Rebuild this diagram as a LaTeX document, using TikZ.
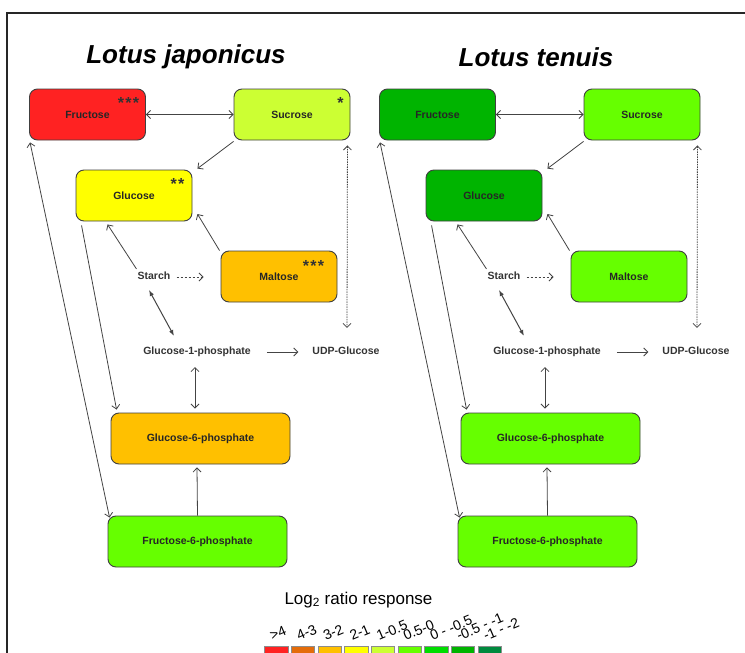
\documentclass[tikz,border=0pt]{standalone}
\usepackage{fontspec}
\setmainfont{Liberation Sans}
\usetikzlibrary{arrows.meta,calc}
\definecolor{cRed}{HTML}{FF2222}
\definecolor{cOrD}{HTML}{E46C0A}
\definecolor{cOr}{HTML}{FFC000}
\definecolor{cYel}{HTML}{FFFF00}
\definecolor{cYG}{HTML}{CCFF33}
\definecolor{cLG}{HTML}{66FF00}
\definecolor{cG}{HTML}{00DD00}
\definecolor{cDG}{HTML}{00B400}
\definecolor{cVDG}{HTML}{008A3E}
\definecolor{boxgray}{HTML}{404040}
\definecolor{linegray}{HTML}{444444}
\tikzset{
  box/.style={draw=boxgray, line width=0.9pt, rounded corners=8pt,
    minimum width=116pt, minimum height=51pt, inner sep=0pt,
    font=\fontsize{10.5}{12}\selectfont\bfseries, text=black!85},
  widebox/.style={box, minimum width=179pt},
  lbl/.style={inner sep=0pt, font=\fontsize{10.5}{12}\selectfont\bfseries, text=black!80},
  ttl/.style={inner sep=0pt, font=\fontsize{26}{30}\selectfont\bfseries\itshape},
  conn/.style={draw=linegray, line width=0.8pt},
  uni/.style={conn, -{Straight Barb[length=4pt,width=8pt]}},
  bi/.style={conn, {Straight Barb[length=4pt,width=8pt]}-{Straight Barb[length=4pt,width=8pt]}},
  bifill/.style={conn, line width=1pt, {Latex[length=6pt,width=4.5pt]}-{Latex[length=6pt,width=4.5pt]}},
  stars/.style={inner sep=0pt, anchor=base, font=\fontsize{16}{16}\selectfont\bfseries, text=black!80},
  legsq/.style={draw=black!45, line width=0.8pt, minimum width=23.3pt, minimum height=16pt, inner sep=0pt},
  leglbl/.style={inner sep=0pt, anchor=base west, rotate=23, font=\fontsize{14}{14}\selectfont},
}
\newcommand\sugarpanel[9]{%
  \begin{scope}[xshift=#2]
    \node[ttl] (#1title) at (186,57) {#3};
    \node[box, fill=#4] (#1fru) at (87.5,114.5) {Fructose};
    \node[box, fill=#5] (#1suc) at (292,114.5) {Sucrose};
    \node[box, fill=#6] (#1glu) at (134,195.5) {Glucose};
    \node[box, fill=#7] (#1mal) at (279,276.5) {Maltose};
    \node[lbl] (#1starch) at (154,276) {Starch};
    \node[lbl] (#1gop) at (197,352) {Glucose-1-phosphate};
    \node[lbl] (#1udp) at (346,351) {UDP-Glucose};
    \node[widebox, fill=#8] (#1gsp) at (200.5,438.5) {Glucose-6-phosphate};
    \node[widebox, fill=#9] (#1fsp) at (197.5,541.5) {Fructose-6-phosphate};
    \draw[bi] (#1fru.east) -- (#1suc.west);
    \draw[uni] ($(#1suc.south west)+(0,1)$) -- ($(#1glu.north east)+(5,-1)$);
    \draw[uni] ($(#1starch.north west)+(-1,-3)$) -- ($(#1glu.south west)+(32,3)$);
    \draw[uni] ($(#1mal.north west)+(-1,0)$) -- ($(#1glu.east)+(5,18.5)$);
    \draw[uni, dash pattern=on 2.5pt off 1.5pt] ($(#1starch.east)+(6,1)$) -- ($(#1mal.west)+(-17,0.5)$);
    \draw[bi, line width=0.8pt, dash pattern=on 1.5pt off 1pt] ($(#1suc.south east)+(-3,5)$) -- ($(#1udp.north)+(1,-19)$);
    \draw[bifill] ($(#1starch.south)+(-5,10)$) -- ($(#1gop.north)+(-23,-11)$);
    \draw[uni] ($(#1gop.east)+(16,0)$) -- ($(#1udp.west)+(-14,1)$);
    \draw[bi] ($(#1gop.south)+(-2,10)$) -- ($(#1gsp.north)+(-5.5,-4)$);
    \draw[uni] ($(#1glu.south west)+(6,4)$) -- ($(#1gsp.north west)+(6,-3)$);
    \draw[bi] ($(#1fru.south west)+(1,2)$) -- ($(#1fsp.north west)+(2,2)$);
    \draw[uni] (#1fsp.north) -- ($(#1gsp.south)+(-3.5,3)$);
  \end{scope}}
\begin{document}
\begin{tikzpicture}[x=1pt,y=-1pt]
  \useasboundingbox (0,0) rectangle (745,653);
  \fill[white] (0,0) rectangle (745,653);
  \draw[line width=2pt, black!85] (7,654) -- (7,13) -- (746,13);
  \sugarpanel{L}{0pt}{Lotus japonicus}{cRed}{cYG}{cYel}{cOr}{cOr}{cLG}
  \sugarpanel{R}{350pt}{Lotus tenuis}{cDG}{cLG}{cDG}{cLG}{cLG}{cLG}
  \node[stars] (st1) at ($(Lfru.north east)+(-17.5,19.5)$) {*\kern1.2pt*\kern1.2pt*};
  \node[stars] (st2) at ($(Lsuc.north east)+(-10,19.5)$) {*};
  \node[stars] (st3) at ($(Lglu.north east)+(-15,19.5)$) {*\kern1.2pt*};
  \node[stars] (st4) at ($(Lmal.north east)+(-24,20.5)$) {*\kern1.2pt*\kern1.2pt*};
  \node[inner sep=0pt, font=\fontsize{17}{20}\selectfont] (legtitle) at (358.5,600) {Log\textsubscript{2} ratio response};
  \foreach \i/\c/\t in {0/cRed/{>4},1/cOrD/{4-3},2/cOr/{3-2},3/cYel/{2-1},4/cYG/{1-0.5},5/cLG/{0.5-0},6/cG/{0 - -0.5},7/cDG/{-0.5 - -1},8/cVDG/{-1 - -2}}{
    \node[legsq, fill=\c, anchor=north west] (sq\i) at (264.3+26.67*\i,646) {};
    \node[leglbl] (ll\i) at ($(sq\i.north west)+(8,-5)$) {\t};
  }
\end{tikzpicture}
\end{document}
